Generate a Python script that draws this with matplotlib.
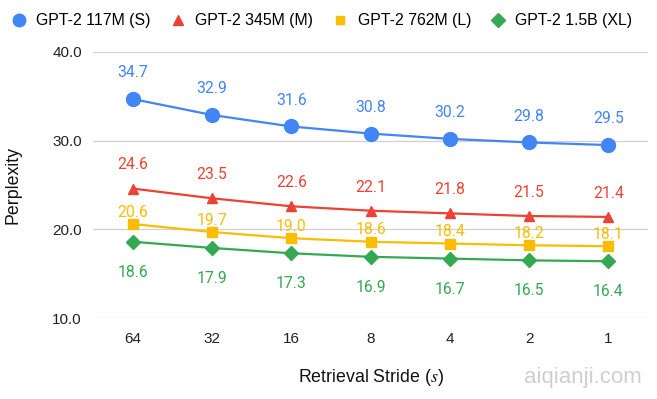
import matplotlib
matplotlib.use("Agg")
import matplotlib.pyplot as plt

strides = ["64", "32", "16", "8", "4", "2", "1"]
ppl_s = [34.7, 32.9, 31.6, 30.8, 30.2, 29.8, 29.5]
ppl_m = [24.6, 23.5, 22.6, 22.1, 21.8, 21.5, 21.4]
ppl_l = [20.6, 19.7, 19.0, 18.6, 18.4, 18.2, 18.1]
ppl_xl = [18.6, 17.9, 17.3, 16.9, 16.7, 16.5, 16.4]
series_names = ["GPT-2 117M (S)", "GPT-2 345M (M)", "GPT-2 762M (L)", "GPT-2 1.5B (XL)"]
y_ticks = [10.0, 20.0, 30.0, 40.0]

plt.rcParams['font.family'] = ['Liberation Sans', 'DejaVu Sans']
plt.rcParams['mathtext.fontset'] = 'stix'

fig = plt.figure(figsize=(6.57, 3.99), dpi=100)
ax = fig.add_axes([93/657, 1-318/399, (648-93)/657, (318-52)/399])

styles = [
    (ppl_s, "#4285F4", "o", 10, 19, series_names[0]),
    (ppl_m, "#EA4335", "^", 7.5, 17, series_names[1]),
    (ppl_l, "#FBBC04", "s", 6.5, 8.5, series_names[2]),
    (ppl_xl, "#34A853", "D", 7.5, -22, series_names[3]),
]
x = list(range(len(strides)))
handles = []
for vals, col, mk, ms, off, name in styles:
    h, = ax.plot(x, vals, color=col, marker=mk, markersize=ms, lw=1.6, label=name, zorder=3)
    handles.append(h)
    for xi, v in zip(x, vals):
        ax.annotate(f"{v:.1f}", xy=(xi, v), xytext=(0, off), textcoords="offset points",
                    ha="center", va="center", color=col, fontsize=11.3,
                    family=["Roboto", "DejaVu Sans"],
                    arrowprops=dict(arrowstyle="-", color="#e6e6e6", lw=0.6,
                                    shrinkA=7, shrinkB=5), zorder=2)

ax.set_xlim(-0.5, len(strides) - 0.5)
ax.set_ylim(10, 40)
ax.set_yticks(y_ticks)
ax.set_yticklabels([f"{t:.1f}" for t in y_ticks], fontsize=11, color="#222222")
ax.set_xticks(x)
ax.set_xticklabels(strides, fontsize=11, color="#222222")
ax.tick_params(length=0, pad=8)
ax.tick_params(axis='x', pad=10)
for s in ax.spines.values():
    s.set_visible(False)
ax.grid(axis='y', color="#d0d0d0", lw=0.9, zorder=0)
ax.set_axisbelow(True)
ax.set_ylabel("Perplexity", fontsize=12.8, color="#111111")
ax.yaxis.set_label_coords(-0.128, 0.5)
ax.set_xlabel(r"Retrieval Stride ($\mathit{s}$)", fontsize=12.8, color="#111111")
ax.xaxis.set_label_coords(0.5, -0.185)

leg = fig.legend(handles=handles, loc="center left", bbox_to_anchor=(11/657, 1 - 21/399), ncol=4,
                 frameon=False, fontsize=11.4, handlelength=1.0, columnspacing=1.2,
                 handletextpad=0.6, borderaxespad=0, borderpad=0, markerscale=0.9)
for ln in leg.get_lines():
    ln.set_linestyle("None")

fig.text(642/657, 1 - 377/399, "aiqianji.com", ha="right", va="center", fontsize=16,
         color="#cfcfcf")

fig.savefig("out.png", dpi=100)
